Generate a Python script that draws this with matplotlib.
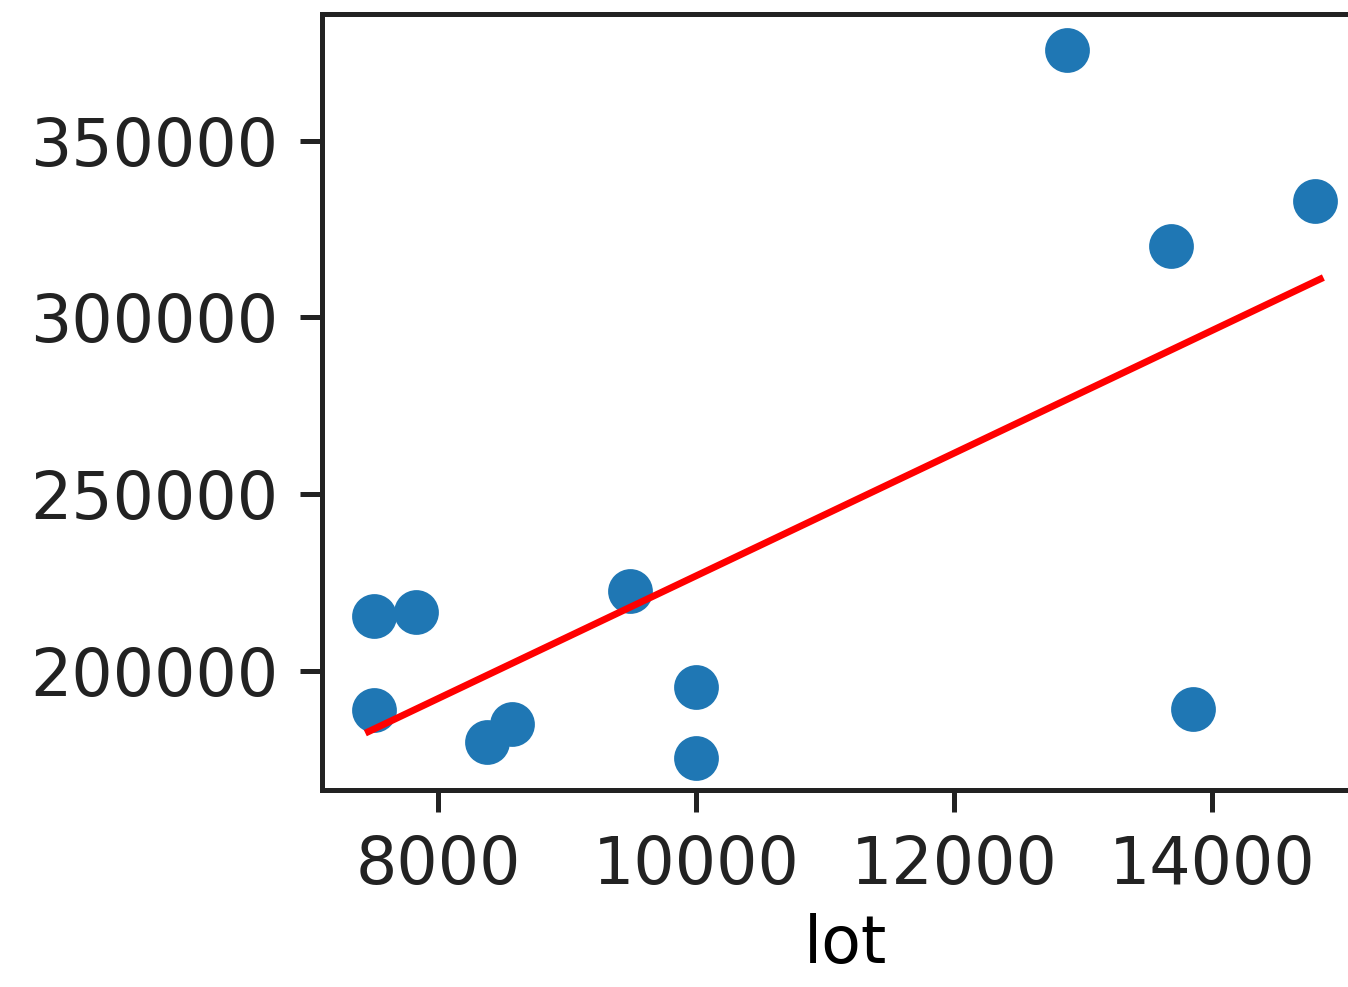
import matplotlib
matplotlib.use("Agg")
import matplotlib.pyplot as plt

lot = [7500, 7500, 7830, 8380, 8570, 9490, 10000, 10000, 12880, 13680, 13850, 14800]
price = [215300, 188900, 216500, 179800, 184900, 222400, 195200, 175300, 375600, 320200, 189200, 333000]

fit_x = [7460, 14840]
fit_y = [182700, 310800]

plt.rcParams["font.size"] = 10.4
plt.rcParams["text.color"] = "#1a1a1a"
plt.rcParams["xtick.labelcolor"] = "#1a1a1a"
plt.rcParams["ytick.labelcolor"] = "#1a1a1a"

dpi = 450
fig = plt.figure(figsize=(1348 / dpi, 987 / dpi), dpi=dpi)
ax = fig.add_axes([322 / 1348, 1 - 790 / 987, (1368 - 322) / 1348, (790 - 14) / 987])
ax.scatter(lot, price, color="#1f77b4", s=38, zorder=2)
ax.plot(fit_x, fit_y, color="red", lw=1.1, zorder=3)
ax.set_xlim(7100, 15210)
ax.set_ylim(166190, 385800)
ax.set_xticks([8000, 10000, 12000, 14000])
ax.set_yticks([200000, 250000, 300000, 350000])
for s in ax.spines.values():
    s.set_color("#222222")
ax.tick_params(colors="#222222")
ax.set_xlabel("lot", labelpad=2.5)
fig.savefig("out.png", dpi=dpi)
